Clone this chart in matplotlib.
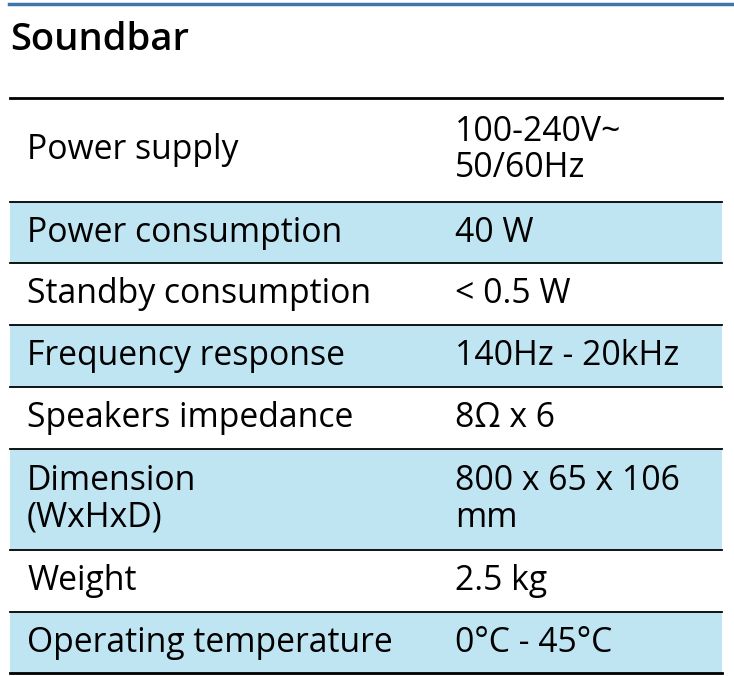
import matplotlib
matplotlib.use("Agg")
import matplotlib.pyplot as plt
from matplotlib.patches import Rectangle

title = "Soundbar"
labels = ["Power supply", "Power consumption", "Standby consumption", "Frequency response",
          "Speakers impedance", "Dimension\n(WxHxD)", "Weight", "Operating temperature"]
values = ["100-240V~\n50/60Hz", "40 W", "< 0.5 W", "140Hz - 20kHz", "8Ω x 6",
          "800 x 65 x 106\nmm", "2.5 kg", "0°C - 45°C"]
row_edges = [98, 202, 263, 325, 387, 449, 550, 612, 673]

fig = plt.figure(figsize=(7.34, 6.76), dpi=100)
ax = fig.add_axes([0, 0, 1, 1])
ax.set_xlim(0, 734); ax.set_ylim(676, 0); ax.axis("off")
font = ["Open Sans", "DejaVu Sans"]

ax.plot([9, 734], [4, 4], color="#3d77a8", lw=2.5)
ax.text(10, 40, title, fontsize=27.5, fontweight="semibold", family=font, va="center", ha="left")

for i, (lab, val) in enumerate(zip(labels, values)):
    y0, y1 = row_edges[i], row_edges[i + 1]
    if i % 2 == 1:
        ax.add_patch(Rectangle((10, y0), 712, y1 - y0, color="#bfe4f2", lw=0))
    yc = (y0 + y1) / 2
    ax.text(27, yc, lab, fontsize=24.3, family=font, va="center", ha="left", linespacing=1.1)
    ax.text(455, yc, val, fontsize=24.3, family=font, va="center", ha="left", linespacing=1.1)
for y in row_edges:
    lw = 2 if y in (98, 673) else 1.3
    ax.plot([10, 722], [y, y], color="black", lw=lw)

fig.savefig("out.png", dpi=100)
